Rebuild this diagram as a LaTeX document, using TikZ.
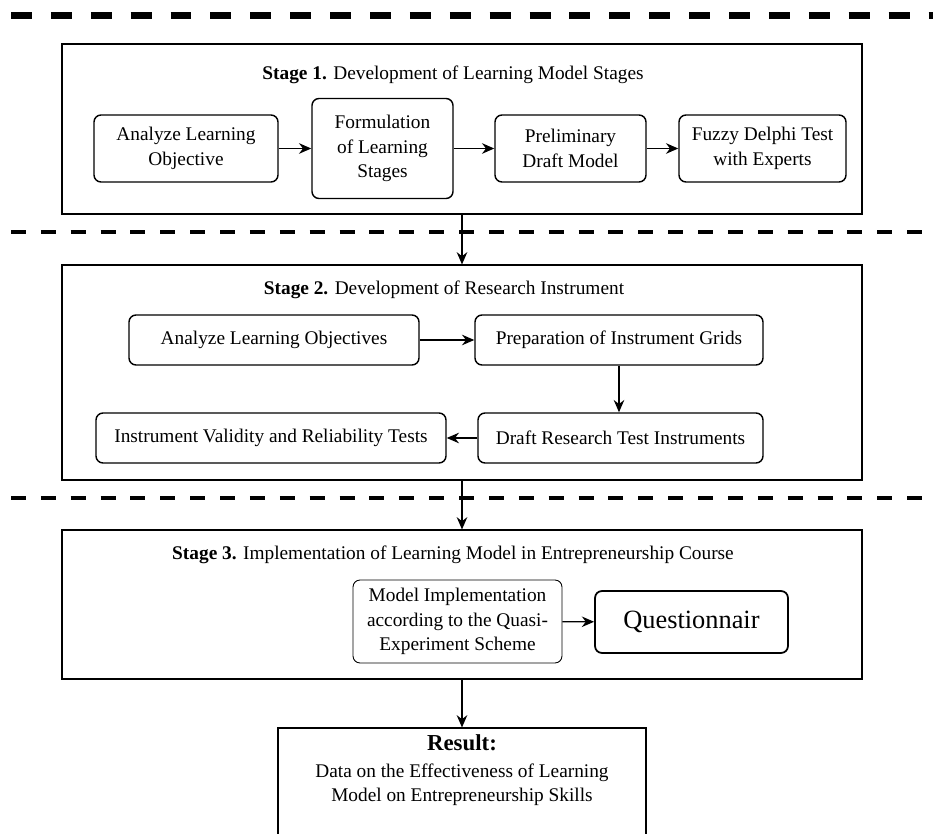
\documentclass[tikz,border=0pt]{standalone}
\usepackage{fontspec}
\setmainfont{Liberation Serif}
\usetikzlibrary{arrows.meta, positioning, calc}

\tikzset{
  stagebox/.style={draw, line width=0.6pt, minimum width=800*0.2mm, inner sep=0pt},
  stagetitle/.style={inner sep=1pt, font=\fontsize{11}{13}\selectfont},
  stepnode/.style={draw, rounded corners=4pt, line width=0.8pt, align=center, inner sep=2pt, font=\fontsize{11}{14}\selectfont},
  flow/.style={-{Stealth[length=7pt,width=6pt]}, line width=0.7pt},
  phasetop/.style={line width=3.5pt, dash pattern=on 11.9pt off 10.8pt},
  phase/.style={line width=2.8pt, dash pattern=on 8.5pt off 8.5pt},
}

\begin{document}
\begin{tikzpicture}[x=0.2mm,y=-0.2mm]
           \clip (0,0) rectangle (933,834);
           % phase separators
           \draw[phasetop] (11,15.5) -- (940,15.5);
           \draw[phase] (11,232) -- (940,232);
           \draw[phase] (11,498) -- (940,498);

           % stage 1
           \node[stagebox, minimum height=170*0.2mm] at (462,129) (S1) {};
           \node[stagetitle] at (453,75) (T1) {\textbf{Stage 1.} Development of Learning Model Stages};
           \node[stepnode, minimum width=184*0.2mm, minimum height=67*0.2mm] at (186,148.5) (A1) {Analyze Learning\\Objective};
           \node[stepnode, minimum width=141*0.2mm, minimum height=100*0.2mm] at (382.5,148.5) (A2) {Formulation\\of Learning\\Stages};
           \node[stepnode, minimum width=151*0.2mm, minimum height=67*0.2mm] at (570.5,148.5) (A3) {Preliminary\\Draft Model};
           \node[stepnode, minimum width=167*0.2mm, minimum height=67*0.2mm] at (762.5,148.5) (A4) {Fuzzy Delphi Test\\with Experts};
           \draw[flow] (A1) -- (A2);
           \draw[flow] (A2) -- (A3);
           \draw[flow] (A3) -- (A4);

           % stage 2
           \node[stagebox, minimum height=215*0.2mm] at (462,372.5) (S2) {};
           \node[stagetitle] at (444,290) (T2) {\textbf{Stage 2.} Development of Research Instrument};
           \node[stepnode, minimum width=290*0.2mm, minimum height=50*0.2mm] at (274,340) (B1) {Analyze Learning Objectives};
           \node[stepnode, minimum width=288*0.2mm, minimum height=50*0.2mm] at (619,340) (B2) {Preparation of Instrument Grids};
           \node[stepnode, minimum width=285*0.2mm, minimum height=50*0.2mm] at (620.5,438) (B3) {Draft Research Test Instruments};
           \node[stepnode, minimum width=350*0.2mm, minimum height=50*0.2mm] at (271,438) (B4) {Instrument Validity and Reliability Tests};
           \draw[flow] (B1) -- (B2);
           \draw[flow] (B2.south) -- (B2.south |- B3.north);
           \draw[flow] (B3) -- (B4);

           % stage 3
           \node[stagebox, minimum height=149*0.2mm] at (462,604.5) (S3) {};
           \node[stagetitle] at (453,555) (T3) {\textbf{Stage 3.} Implementation of Learning Model in Entrepreneurship Course};
           \node[stepnode, line width=0.5pt, minimum width=209*0.2mm, minimum height=83*0.2mm] at (457.5,621.5) (C1) {Model Implementation\\according to the Quasi-\\Experiment Scheme};
           \node[stepnode, line width=1pt, minimum width=193*0.2mm, minimum height=62*0.2mm, font=\fontsize{15}{18}\selectfont] at (691.5,622) (C2) {Questionnair};
           \draw[flow] (C1) -- (C2);

           % result
           \node[draw, line width=0.6pt, minimum width=368*0.2mm, minimum height=140*0.2mm] at (462,798) (R) {};
           \node[align=center, inner sep=0pt, font=\fontsize{11}{13.6}\selectfont, anchor=north] at (462,734) (RT) {{\fontsize{13}{15}\selectfont\textbf{Result:}}\\[2pt]Data on the Effectiveness of Learning\\Model on Entrepreneurship Skills};

           \draw[flow] (S1) -- (S2);
           \draw[flow] (S2) -- (S3);
           \draw[flow] (S3) -- (R);
\end{tikzpicture}
\end{document}
